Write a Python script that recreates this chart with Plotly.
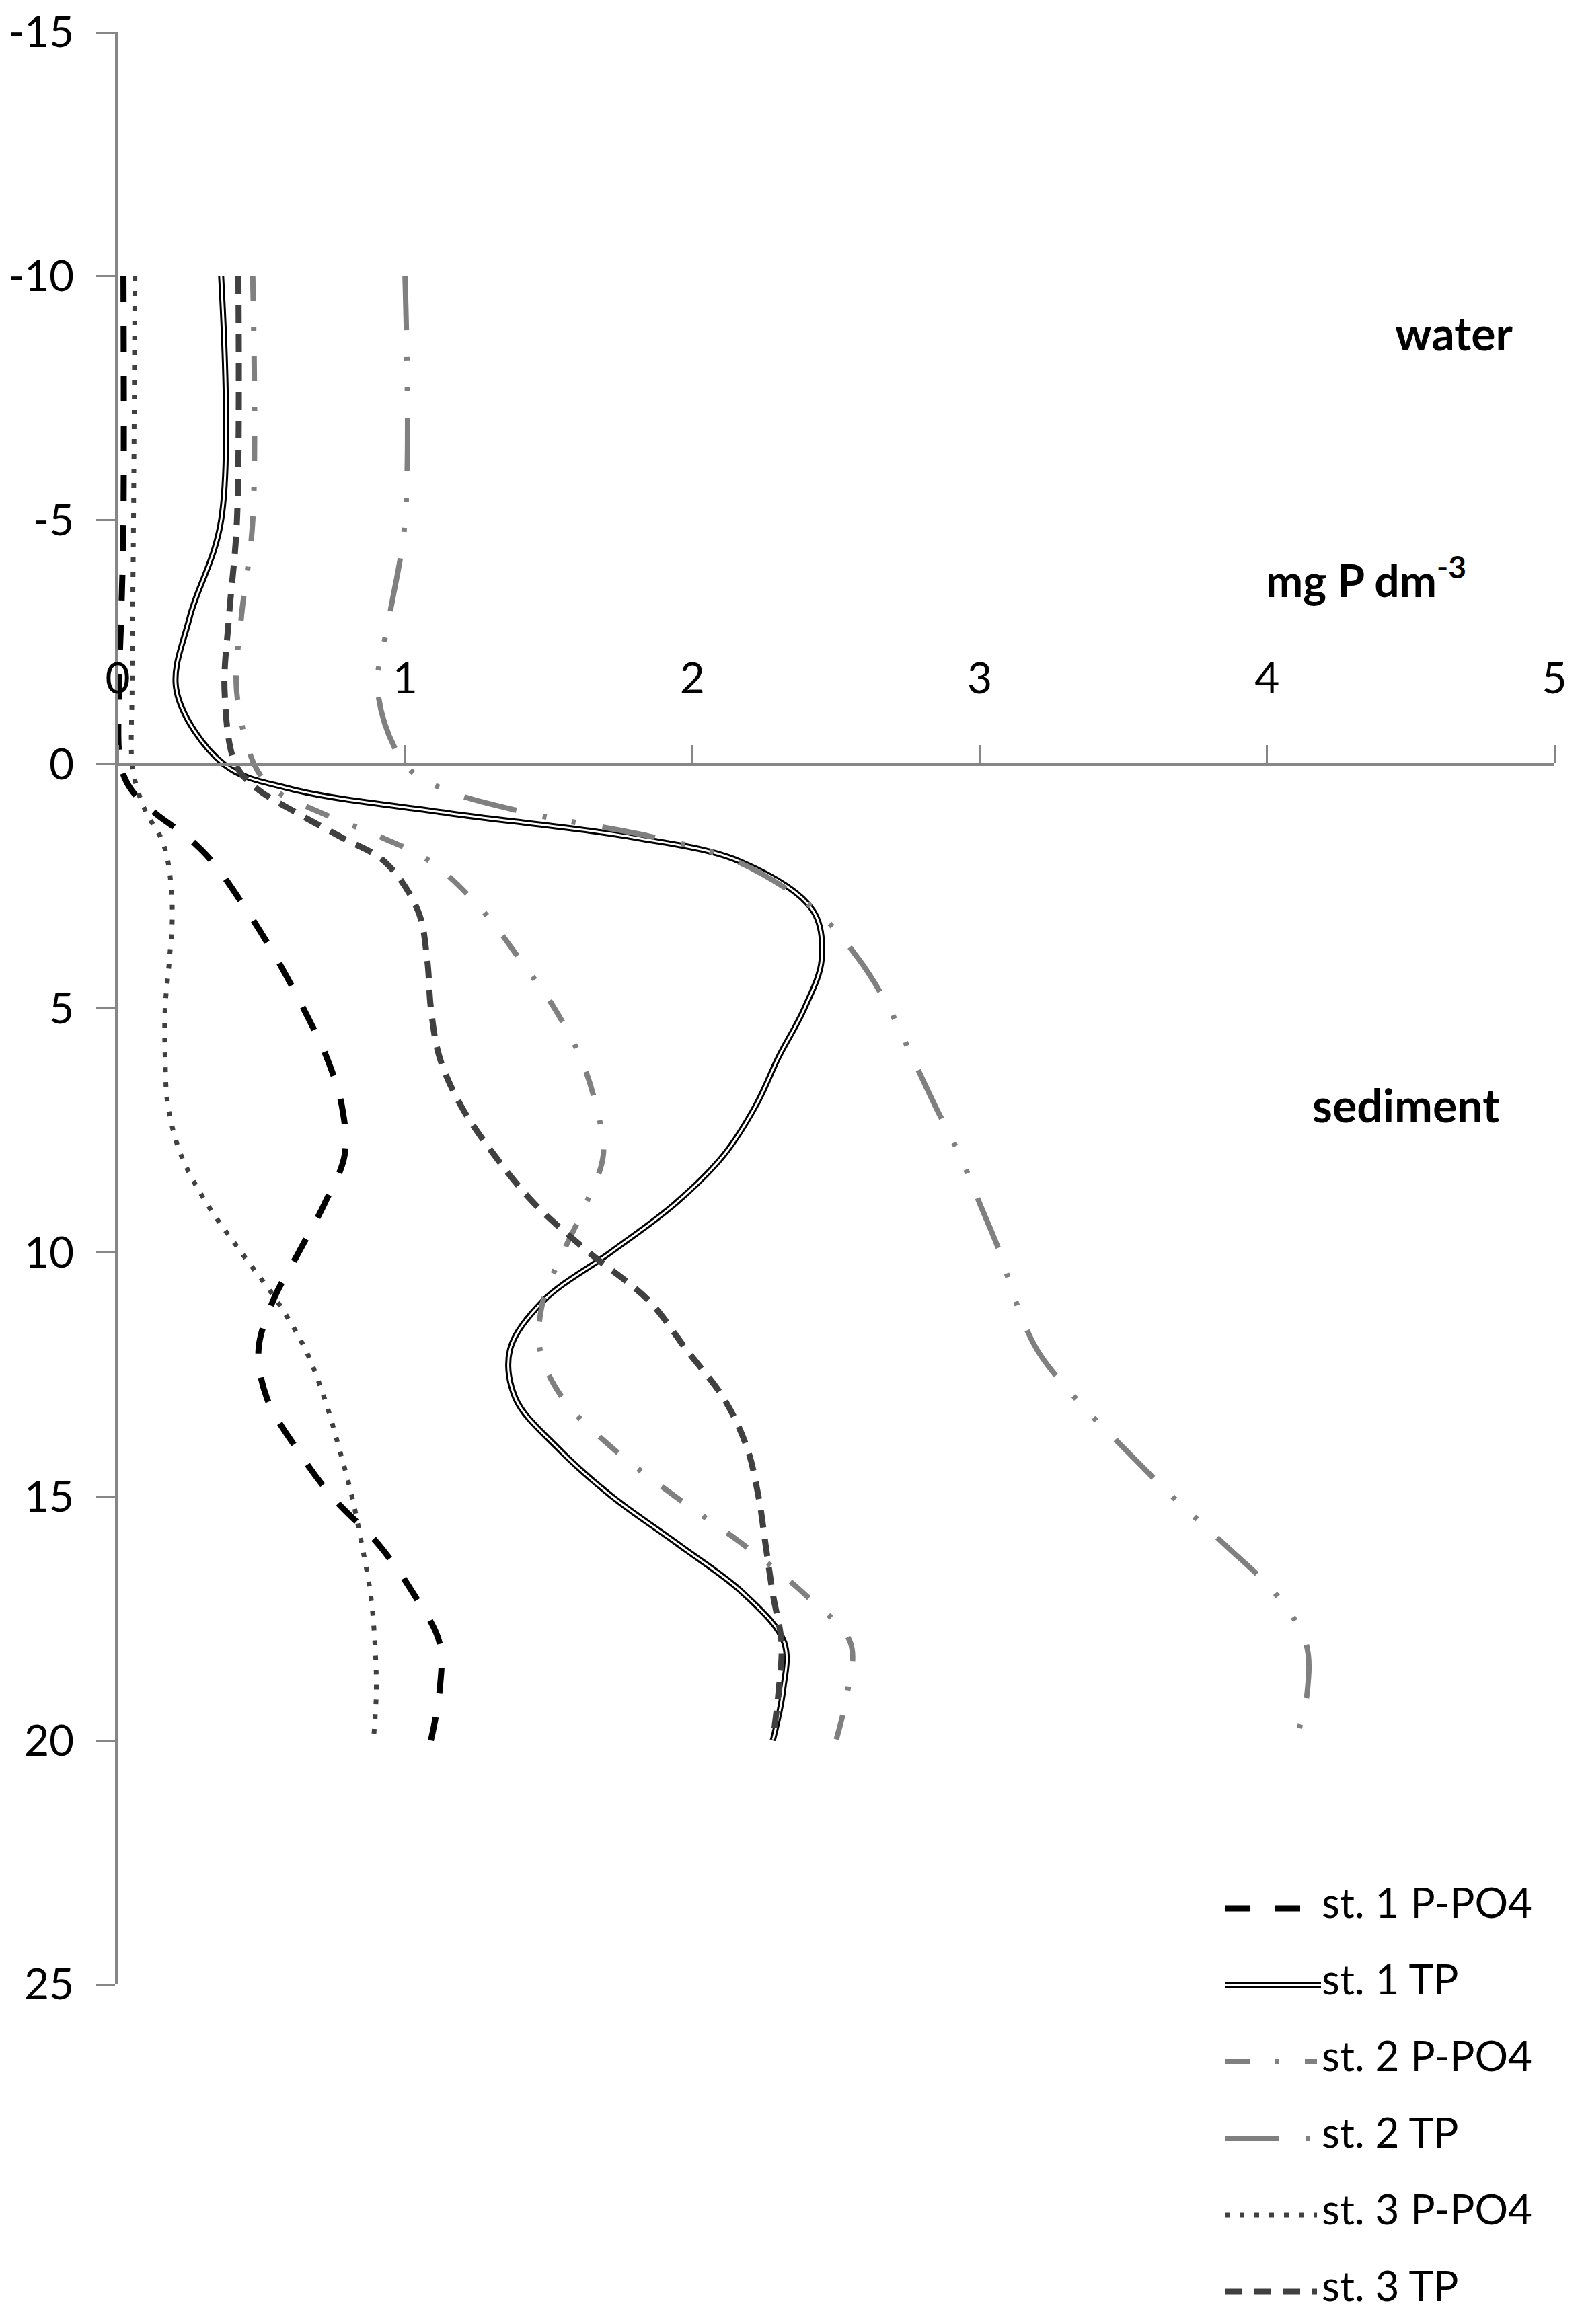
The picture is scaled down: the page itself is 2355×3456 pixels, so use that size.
import plotly.graph_objects as go

# ---------------- data ----------------
depth = [-10, -5, -3, -1.5, 0, 0.5, 1, 1.5, 2, 3, 4, 5, 6, 7, 8, 9, 10, 11, 12, 13, 14, 15, 16, 17, 18, 19, 20]

st1_po4 = [0.02, 0.02, 0.012, 0.004, 0.01, 0.045, 0.13, 0.245, 0.33, 0.45, 0.555, 0.646, 0.727, 0.78, 0.79,
           0.72, 0.63, 0.54, 0.49, 0.52, 0.62, 0.745, 0.91, 1.03, 1.12, 1.12, 1.09]
st1_tp = [0.36, 0.36, 0.25, 0.205, 0.37, 0.60, 1.15, 1.80, 2.17, 2.42, 2.45, 2.39, 2.30, 2.22, 2.11,
          1.94, 1.715, 1.48, 1.365, 1.385, 1.53, 1.72, 1.955, 2.18, 2.32, 2.315, 2.28]
st2_po4 = [0.47, 0.47, 0.43, 0.414, 0.475, 0.54, 0.71, 0.92, 1.09, 1.27, 1.40, 1.52, 1.61, 1.665, 1.69,
           1.63, 1.55, 1.48, 1.47, 1.55, 1.72, 1.94, 2.18, 2.39, 2.55, 2.54, 2.50]
st2_tp = [1.0, 1.0, 0.945, 0.905, 1.0, 1.13, 1.43, 1.87, 2.16, 2.43, 2.58, 2.685, 2.765, 2.845, 2.93,
          3.0, 3.07, 3.125, 3.20, 3.335, 3.50, 3.67, 3.855, 4.03, 4.135, 4.14, 4.10]
st3_po4 = [0.06, 0.055, 0.052, 0.05, 0.05, 0.068, 0.10, 0.15, 0.175, 0.19, 0.18, 0.165, 0.165, 0.175, 0.22,
           0.31, 0.43, 0.555, 0.654, 0.72, 0.77, 0.815, 0.85, 0.88, 0.895, 0.90, 0.89]
st3_tp = [0.42, 0.415, 0.387, 0.372, 0.41, 0.485, 0.625, 0.78, 0.93, 1.045, 1.077, 1.09, 1.12, 1.195, 1.31,
          1.45, 1.64, 1.85, 1.98, 2.11, 2.19, 2.23, 2.255, 2.28, 2.31, 2.30, 2.28]

series_names = ["st. 1 P-PO4", "st. 1 TP", "st. 2 P-PO4", "st. 2 TP", "st. 3 P-PO4", "st. 3 TP"]

x_tickvals = [0, 1, 2, 3, 4, 5]
x_ticktext = ["0", "1", "2", "3", "4", "5"]
y_tickvals = [-15, -10, -5, 0, 5, 10, 15, 20, 25]
y_ticktext = ["-15", "-10", "-5", "0", "5", "10", "15", "20", "25"]

x_range = [0, 5]
y_range = [25, -15]

# ---------------- styles ----------------
FONT = "Lato"
AXIS_COL = "#868686"
styles = [
    dict(color="#000000", width=9, dash="38px,36px"),             # st.1 P-PO4
    None,                                                         # st.1 TP (double line)
    dict(color="#808080", width=8, dash="37px,38px,6px,38px"),    # st.2 P-PO4
    dict(color="#808080", width=8, dash="80px,40px,6px,38px,6px,40px"),  # st.2 TP
    dict(color="#404040", width=7, dash="7px,15px"),              # st.3 P-PO4
    dict(color="#404040", width=9, dash="26px,17px"),             # st.3 TP
]
DOUBLE_OUT = dict(color="#000000", width=9)
DOUBLE_IN = dict(color="#ffffff", width=3)

fig = go.Figure()
values = [st1_po4, st1_tp, st2_po4, st2_tp, st3_po4, st3_tp]
for name, vals, st in zip(series_names, values, styles):
    if st is None:
        fig.add_trace(go.Scatter(x=vals, y=depth, mode="lines", name=name,
                                 line=dict(**DOUBLE_OUT, shape="spline", smoothing=1)))
        fig.add_trace(go.Scatter(x=vals, y=depth, mode="lines", name=name, showlegend=False,
                                 hoverinfo="skip",
                                 line=dict(**DOUBLE_IN, shape="spline", smoothing=1)))
    else:
        fig.add_trace(go.Scatter(x=vals, y=depth, mode="lines", name=name,
                                 line=dict(**st, shape="spline", smoothing=1)))

# x axis crosses the depth axis at depth 0
x_axis_pos = (y_range[0] - 0) / (y_range[0] - y_range[1])

# page body has an 8px default margin; figure sized to fit inside the window
PAGE_OFF = 8
PLOT_L, PLOT_T, PLOT_W, PLOT_H = 175, 48, 2136, 2903   # target plot box in page pixels
FIG_W, FIG_H = 2355 - 2 * PAGE_OFF, 3456 - 2 * PAGE_OFF
m_l = PLOT_L - PAGE_OFF
m_t = PLOT_T - PAGE_OFF
m_r = FIG_W - m_l - PLOT_W
m_b = FIG_H - m_t - PLOT_H

fig.update_layout(
    width=FIG_W, height=FIG_H,
    margin=dict(l=m_l, r=m_r, t=m_t, b=m_b, autoexpand=False),
    plot_bgcolor="white", paper_bgcolor="white",
    showlegend=False,
    font=dict(family=FONT, size=64, color="black"),
    xaxis=dict(range=x_range, tickvals=x_tickvals, ticktext=x_ticktext,
               side="top", anchor="free", position=x_axis_pos, automargin=False,
               ticklabeloverflow="allow",
               showline=True, linecolor=AXIS_COL, linewidth=4,
               ticks="outside", ticklen=27, tickwidth=3, tickcolor=AXIS_COL,
               showgrid=False, zeroline=False, ticklabelstandoff=51,
               tickfont=dict(family=FONT, size=64, color="black")),
    yaxis=dict(range=y_range, tickvals=y_tickvals, ticktext=y_ticktext, automargin=False,
               ticklabeloverflow="allow",
               showline=True, linecolor=AXIS_COL, linewidth=4,
               ticks="outside", ticklen=28, tickwidth=3, tickcolor=AXIS_COL,
               showgrid=False, zeroline=False, ticklabelstandoff=20,
               tickfont=dict(family=FONT, size=64, color="black")),
)

# text labels
fig.add_annotation(x=4.65, y=-8.77, xref="x", yref="y", text="<b>water</b>", showarrow=False,
                   yshift=6, font=dict(family=FONT, size=68, color="black"))
fig.add_annotation(x=4.345, y=-3.7, xref="x", yref="y", text="<b>mg P dm<sup>-3</sup></b>", showarrow=False,
                   yshift=10, font=dict(family=FONT, size=66, color="black"))
fig.add_annotation(x=4.485, y=7.03, xref="x", yref="y", text="<b>sediment</b>", showarrow=False,
                   yshift=4, font=dict(family=FONT, size=68, color="black"))

# manual legend (bottom right, below plot); positions given in page pixels
def py_to_paper(py):
    return (PLOT_T + PLOT_H - py) / PLOT_H

def px_to_paper(px):
    return (px - PLOT_L) / PLOT_W

leg_x0, leg_x1, leg_tx = px_to_paper(1821), px_to_paper(1958), px_to_paper(1963)
row0, row_step = 2838, 114
for i, (name, st) in enumerate(zip(series_names, styles)):
    yp = py_to_paper(row0 + i * row_step)
    if st is None:
        for ln in (DOUBLE_OUT, DOUBLE_IN):
            fig.add_shape(type="line", xref="paper", yref="paper", x0=leg_x0, x1=px_to_paper(1964),
                          y0=yp, y1=yp, line=dict(color=ln["color"], width=ln["width"]))
    else:
        fig.add_shape(type="line", xref="paper", yref="paper", x0=leg_x0, x1=leg_x1,
                      y0=yp, y1=yp, line=dict(color=st["color"], width=st["width"], dash=st["dash"]))
    fig.add_annotation(x=leg_tx, y=yp, xref="paper", yref="paper", text=name, showarrow=False,
                       xanchor="left", yanchor="middle", yshift=10,
                       font=dict(family=FONT, size=62, color="black"))

fig.write_html("out.html")
